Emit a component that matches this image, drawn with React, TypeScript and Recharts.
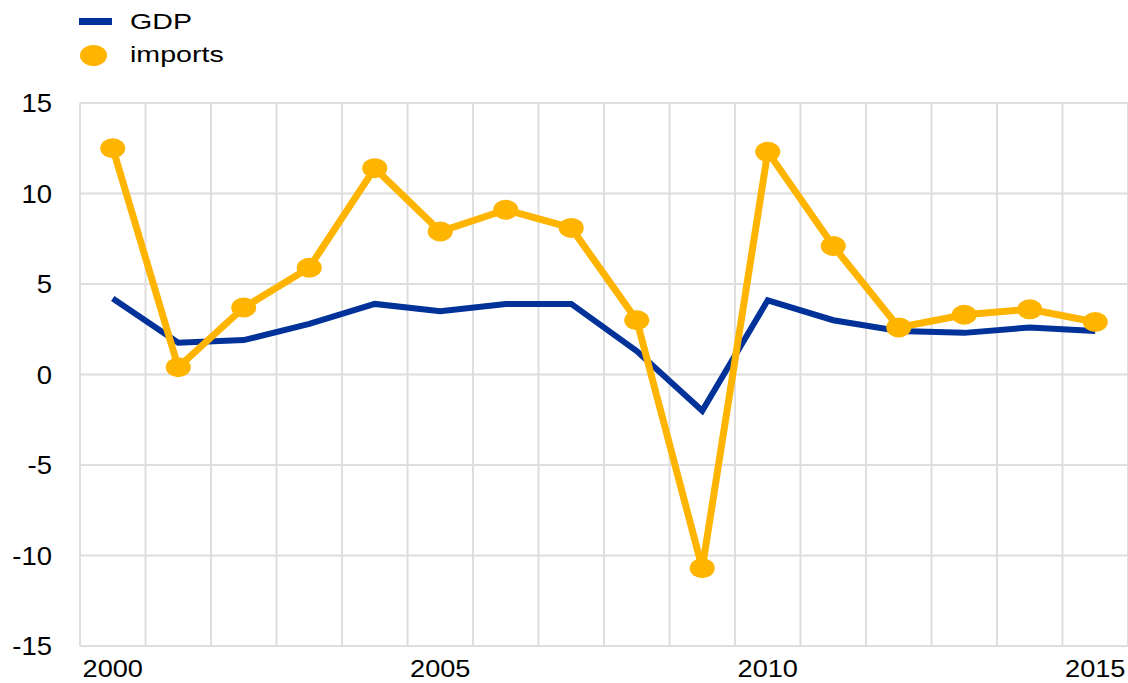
import React from "react";
import { LineChart, Line, XAxis, YAxis, CartesianGrid } from "recharts";

const years = [2000, 2001, 2002, 2003, 2004, 2005, 2006, 2007, 2008, 2009, 2010, 2011, 2012, 2013, 2014, 2015];
const gdp = [4.2, 1.75, 1.9, 2.8, 3.9, 3.5, 3.9, 3.9, 1.3, -2.0, 4.1, 3.0, 2.4, 2.3, 2.6, 2.4];
const imports = [12.5, 0.4, 3.7, 5.9, 11.4, 7.9, 9.1, 8.1, 3.0, -10.7, 12.3, 7.1, 2.6, 3.3, 3.6, 2.9];
const xTicks = [2000, 2005, 2010, 2015];
const yTicks = [-15, -10, -5, 0, 5, 10, 15];
const seriesNames = ["GDP", "imports"];

const BLUE = "#003299";
const ORANGE = "#FFB400";
const FONT = "'Liberation Sans', Arial, sans-serif";

const data = years.map((y, i) => ({ year: y, gdp: gdp[i], imports: imports[i] }));
const gridBounds = [...years.map((y) => y - 0.5), years[years.length - 1] + 0.5];
const xDomain = [gridBounds[0], gridBounds[gridBounds.length - 1]];

const XTick = (props: any) => {
  const { x, y, payload } = props;
  return (
    <g transform={`translate(${x},${y})`}>
      <text x={0} y={31} textAnchor="middle" fontSize={23} fill="#000" fontFamily={FONT} transform="scale(1.18,1)">
        {payload.value}
      </text>
    </g>
  );
};

const YTick = (props: any) => {
  const { x, y, payload } = props;
  return (
    <g transform={`translate(${x},${y})`}>
      <text x={0} y={9} textAnchor="end" fontSize={25} fill="#000" fontFamily={FONT} transform="scale(1.1,1)">
        {payload.value}
      </text>
    </g>
  );
};

const OrangeDot = (props: any) => {
  const { cx, cy } = props;
  if (cx == null || cy == null) return null;
  return <ellipse cx={cx} cy={cy} rx={12.5} ry={10} fill={ORANGE} />;
};

const verticalGen = (props: any) => {
  const { xAxis, offset } = props;
  if (xAxis && typeof xAxis.scale === "function") {
    return gridBounds.map((b) => xAxis.scale(b));
  }
  const w = offset.width;
  return gridBounds.map((b) => offset.left + ((b - xDomain[0]) / (xDomain[1] - xDomain[0])) * w);
};

const LegendBlock = () => (
  <div style={{ fontFamily: FONT, fontSize: 22, color: "#000" }}>
    <div style={{ position: "absolute", left: 79, top: 18, width: 33, height: 7, background: BLUE }} />
    <div
      style={{ position: "absolute", left: 130, top: 9, transform: "scale(1.3,1)", transformOrigin: "left center", lineHeight: "26px" }}
    >
      {seriesNames[0]}
    </div>
    <div style={{ position: "absolute", left: 80, top: 45, width: 27, height: 21, borderRadius: "50%", background: ORANGE }} />
    <div
      style={{ position: "absolute", left: 130, top: 42, transform: "scale(1.3,1)", transformOrigin: "left center", lineHeight: "26px" }}
    >
      {seriesNames[1]}
    </div>
  </div>
);

export default function App() {
  return (
    <div style={{ position: "absolute", left: 0, top: 0, width: 1128, height: 683, background: "#fff" }}>
      <LineChart width={1128} height={683} data={data} margin={{ top: 103, right: 0, left: 0, bottom: 0 }}>
        <CartesianGrid
          stroke="#dedede"
          strokeWidth={2}
          horizontal
          vertical
          verticalCoordinatesGenerator={verticalGen}
        />
        <XAxis
          dataKey="year"
          type="number"
          domain={xDomain}
          ticks={xTicks}
          tick={<XTick />}
          tickLine={false}
          axisLine={false}
          tickSize={0}
          tickMargin={0}
          height={37}
          interval={0}
        />
        <YAxis
          domain={[-15, 15]}
          ticks={yTicks}
          tick={<YTick />}
          tickLine={false}
          axisLine={false}
          tickSize={0}
          tickMargin={28}
          width={80}
          interval={0}
        />
        <Line
          type="linear"
          dataKey="gdp"
          name={seriesNames[0]}
          stroke={BLUE}
          strokeWidth={6}
          dot={false}
          isAnimationActive={false}
        />
        <Line
          type="linear"
          dataKey="imports"
          name={seriesNames[1]}
          stroke={ORANGE}
          strokeWidth={7}
          dot={<OrangeDot />}
          activeDot={false}
          isAnimationActive={false}
        />
      </LineChart>
      <LegendBlock />
    </div>
  );
}
